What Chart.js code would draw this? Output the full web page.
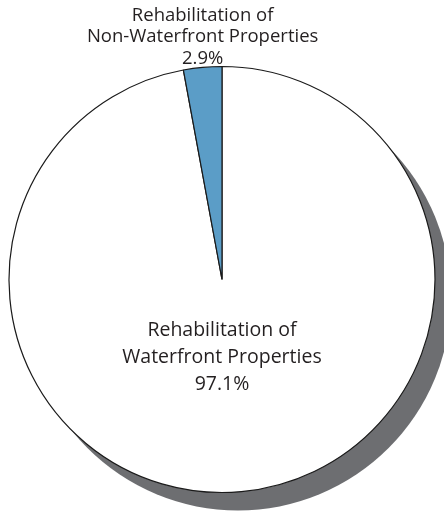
<!DOCTYPE html>
<html>
<head>
<meta charset="utf-8">
<script src="https://cdn.jsdelivr.net/npm/chart.js@4"></script>
<style>
  html, body { margin: 0; padding: 0; background: #fff; }
  #wrap { width: 444px; height: 514px; }
</style>
</head>
<body>
<div id="wrap"><canvas id="pie"></canvas></div>
<script>
// data
const categories = [
    ['Rehabilitation of', 'Waterfront Properties'],
    ['Rehabilitation of', 'Non-Waterfront Properties']
];
const shares = [97.1, 2.9];
const sliceColors = ['#ffffff', '#5b9dc7'];

const textColor = '#231f20';
const fontFamily = '"Open Sans", "Noto Sans", sans-serif';

// grey drop shadow behind the whole pie
const pieShadow = {
    id: 'pieShadow',
    beforeDatasetsDraw(chart) {
        const arc = chart.getDatasetMeta(0).data[0];
        if (!arc) return;
        const ctx = chart.ctx;
        ctx.save();
        ctx.fillStyle = '#6d6e71';
        ctx.beginPath();
        ctx.arc(arc.x + 16, arc.y + 18, arc.outerRadius, 0, Math.PI * 2);
        ctx.fill();
        ctx.restore();
    }
};

// slice labels: big one inside, small one above the pie
const sliceLabels = {
    id: 'sliceLabels',
    afterDatasetsDraw(chart) {
        const meta = chart.getDatasetMeta(0);
        const ctx = chart.ctx;
        ctx.save();
        ctx.fillStyle = textColor;
        ctx.textAlign = 'center';
        ctx.textBaseline = 'alphabetic';

        meta.data.forEach((arc, i) => {
            const lines = categories[i].concat([shares[i].toFixed(1) + '%']);
            if (i === 0) {
                ctx.font = '19.5px ' + fontFamily;
                const y0 = arc.y + arc.outerRadius * 0.265;
                lines.forEach((t, k) => ctx.fillText(t, arc.x, y0 + k * 27));
            } else {
                const mid = (arc.startAngle + arc.endAngle) / 2;
                const x = arc.x + Math.cos(mid) * arc.outerRadius;
                const yTop = arc.y - arc.outerRadius;
                ctx.font = '18.5px ' + fontFamily;
                const n = lines.length;
                lines.forEach((t, k) => ctx.fillText(t, x, yTop - 3 - (n - 1 - k) * 21.5));
            }
        });
        ctx.restore();
    }
};

new Chart(document.getElementById('pie'), {
    type: 'pie',
    data: {
        labels: categories,
        datasets: [{
            data: shares,
            backgroundColor: sliceColors,
            borderColor: '#1a1a1a',
            borderWidth: 1.2,
            radius: 213
        }]
    },
    plugins: [pieShadow, sliceLabels],
    options: {
        responsive: true,
        maintainAspectRatio: false,
        animation: false,
        layout: {
            padding: { top: 60, bottom: 15, left: 0, right: 0 }
        },
        plugins: {
            legend: { display: false },
            tooltip: { enabled: false }
        }
    }
});
</script>
</body>
</html>
